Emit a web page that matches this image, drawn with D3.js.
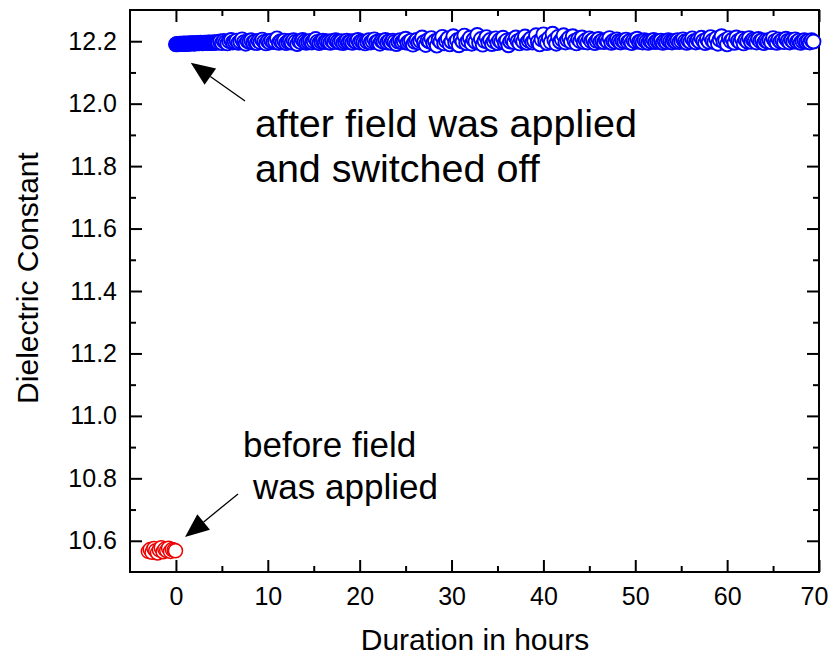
<!DOCTYPE html>
<html>
<head>
<meta charset="utf-8">
<script src="https://cdn.jsdelivr.net/npm/d3@7"></script>
<style>
  html, body { margin: 0; padding: 0; background: #fff; }
  svg { display: block; }
</style>
</head>
<body>
<svg id="chart"></svg>
<script>
/* ── Data ── */
// before the field was applied (hours, dielectric constant)
const redHours = [-3.0, -2.8, -2.6, -2.4, -2.2, -2.0, -1.8, -1.6, -1.4, -1.2, -1.0, -0.8, -0.6, -0.4, -0.2, -0.05];
const redValues = [10.566, 10.572, 10.563, 10.575, 10.568, 10.561, 10.571, 10.578, 10.565, 10.573, 10.569, 10.576, 10.566, 10.572, 10.570, 10.568];

// after field was applied and switched off
const blueHours = [
  0.0, 0.1, 0.2, 0.3, 0.4, 0.5, 0.6, 0.7, 0.8, 0.9,
  1.0, 1.1, 1.2, 1.3, 1.4, 1.5, 1.6, 1.7, 1.8, 1.9,
  2.0, 2.1, 2.2, 2.3, 2.4, 2.5, 2.6, 2.7, 2.8, 2.9,
  3.0, 3.1, 3.2, 3.3, 3.4, 3.5, 3.6, 3.7, 3.8, 3.9,
  4.0, 4.1, 4.2, 4.3, 4.4, 4.5,
  4.6, 4.8, 5.0, 5.2, 5.4, 5.6, 5.8, 6.0, 6.2, 6.4,
  6.6, 6.8, 7.0, 7.2, 7.4, 7.6, 7.8, 8.0, 8.2, 8.4,
  8.6, 8.8, 9.0, 9.2, 9.4, 9.6, 9.8, 10.0, 10.2, 10.4,
  10.6, 10.8, 11.0, 11.2, 11.4, 11.6, 11.8, 12.0, 12.2, 12.4,
  12.6, 12.8, 13.0, 13.2, 13.4, 13.6, 13.8, 14.0, 14.2, 14.4,
  14.6, 14.8, 15.0, 15.2, 15.4, 15.6, 15.8, 16.0, 16.2, 16.4,
  16.6, 16.8, 17.0, 17.2, 17.4, 17.6, 17.8, 18.0, 18.2, 18.4,
  18.6, 18.8, 19.0, 19.2, 19.4, 19.6, 19.8, 20.0, 20.2, 20.4,
  20.6, 20.8, 21.0, 21.2, 21.4, 21.6, 21.8, 22.0, 22.2, 22.4,
  22.6, 22.8, 23.0, 23.2, 23.4, 23.6, 23.8, 24.0, 24.2, 24.4,
  24.6, 24.8, 25.0, 25.2, 25.4, 25.6, 25.8, 26.0, 26.2, 26.4,
  26.6, 26.8, 27.0, 27.2, 27.4, 27.6, 27.8, 28.0, 28.2, 28.4,
  28.6, 28.8, 29.0, 29.2, 29.4, 29.6, 29.8, 30.0, 30.2, 30.4,
  30.6, 30.8, 31.0, 31.2, 31.4, 31.6, 31.8, 32.0, 32.2, 32.4,
  32.6, 32.8, 33.0, 33.2, 33.4, 33.6, 33.8, 34.0, 34.2, 34.4,
  34.6, 34.8, 35.0, 35.2, 35.4, 35.6, 35.8, 36.0, 36.2, 36.4,
  36.6, 36.8, 37.0, 37.2, 37.4, 37.6, 37.8, 38.0, 38.2, 38.4,
  38.6, 38.8, 39.0, 39.2, 39.4, 39.6, 39.8, 40.0, 40.2, 40.4,
  40.6, 40.8, 41.0, 41.2, 41.4, 41.6, 41.8, 42.0, 42.2, 42.4,
  42.6, 42.8, 43.0, 43.2, 43.4, 43.6, 43.8, 44.0, 44.2, 44.4,
  44.6, 44.8, 45.0, 45.2, 45.4, 45.6, 45.8, 46.0, 46.2, 46.4,
  46.6, 46.8, 47.0, 47.2, 47.4, 47.6, 47.8, 48.0, 48.2, 48.4,
  48.6, 48.8, 49.0, 49.2, 49.4, 49.6, 49.8, 50.0, 50.2, 50.4,
  50.6, 50.8, 51.0, 51.2, 51.4, 51.6, 51.8, 52.0, 52.2, 52.4,
  52.6, 52.8, 53.0, 53.2, 53.4, 53.6, 53.8, 54.0, 54.2, 54.4,
  54.6, 54.8, 55.0, 55.2, 55.4, 55.6, 55.8, 56.0, 56.2, 56.4,
  56.6, 56.8, 57.0, 57.2, 57.4, 57.6, 57.8, 58.0, 58.2, 58.4,
  58.6, 58.8, 59.0, 59.2, 59.4, 59.6, 59.8, 60.0, 60.2, 60.4,
  60.6, 60.8, 61.0, 61.2, 61.4, 61.6, 61.8, 62.0, 62.2, 62.4,
  62.6, 62.8, 63.0, 63.2, 63.4, 63.6, 63.8, 64.0, 64.2, 64.4,
  64.6, 64.8, 65.0, 65.2, 65.4, 65.6, 65.8, 66.0, 66.2, 66.4,
  66.6, 66.8, 67.0, 67.2, 67.4, 67.6, 67.8, 68.0, 68.2, 68.4,
  68.6, 68.8, 69.0, 69.2, 69.4
];
const blueValues = [
  12.190, 12.191, 12.190, 12.191, 12.192, 12.191, 12.192, 12.191, 12.192, 12.193,
  12.192, 12.191, 12.192, 12.193, 12.192, 12.193, 12.192, 12.193, 12.194, 12.193,
  12.192, 12.193, 12.194, 12.193, 12.194, 12.193, 12.194, 12.195, 12.194, 12.193,
  12.194, 12.195, 12.194, 12.195, 12.194, 12.195, 12.196, 12.195, 12.194, 12.195,
  12.196, 12.195, 12.196, 12.195, 12.196, 12.197,
  12.196, 12.199, 12.194, 12.201, 12.197, 12.193, 12.200, 12.204, 12.196, 12.198,
  12.202, 12.195, 12.199, 12.206, 12.197, 12.192, 12.200, 12.198, 12.203, 12.196,
  12.199, 12.194, 12.201, 12.197, 12.205, 12.198, 12.193, 12.200, 12.196, 12.202,
  12.197, 12.199, 12.209, 12.195, 12.200, 12.197, 12.202, 12.194, 12.199, 12.201,
  12.196, 12.203, 12.198, 12.191, 12.200, 12.197, 12.204, 12.199, 12.195, 12.198,
  12.201, 12.196, 12.200, 12.207, 12.198, 12.194, 12.199, 12.202, 12.197, 12.200,
  12.198, 12.195, 12.201, 12.197, 12.203, 12.199, 12.196, 12.200, 12.194, 12.198,
  12.202, 12.197, 12.199, 12.195, 12.201, 12.198, 12.204, 12.196, 12.200, 12.197,
  12.193, 12.199, 12.203, 12.196, 12.200, 12.206, 12.197, 12.199, 12.192, 12.201,
  12.198, 12.204, 12.196, 12.200, 12.195, 12.202, 12.198, 12.191, 12.199, 12.203,
  12.197, 12.200, 12.208, 12.195, 12.199, 12.202, 12.189, 12.198, 12.204, 12.196,
  12.201, 12.212, 12.197, 12.188, 12.203, 12.199, 12.210, 12.194, 12.200, 12.186,
  12.205, 12.198, 12.214, 12.193, 12.201, 12.209, 12.190, 12.199, 12.216, 12.196,
  12.203, 12.187, 12.208, 12.199, 12.218, 12.194, 12.202, 12.211, 12.192, 12.205,
  12.198, 12.220, 12.195, 12.207, 12.189, 12.201, 12.213, 12.197, 12.204, 12.191,
  12.200, 12.209, 12.194, 12.203, 12.198, 12.211, 12.196, 12.202, 12.187, 12.199,
  12.205, 12.197, 12.212, 12.200, 12.193, 12.207, 12.199, 12.215, 12.195, 12.202,
  12.208, 12.196, 12.201, 12.219, 12.198, 12.190, 12.206, 12.222, 12.200, 12.194,
  12.210, 12.197, 12.224, 12.203, 12.192, 12.214, 12.199, 12.206, 12.219, 12.196,
  12.204, 12.211, 12.198, 12.216, 12.201, 12.193, 12.207, 12.200, 12.212, 12.197,
  12.203, 12.196, 12.209, 12.200, 12.205, 12.194, 12.201, 12.207, 12.198, 12.202,
  12.197, 12.204, 12.199, 12.210, 12.195, 12.201, 12.198, 12.206, 12.200, 12.196,
  12.202, 12.199, 12.205, 12.197, 12.201, 12.194, 12.203, 12.199, 12.208, 12.198,
  12.200, 12.196, 12.203, 12.199, 12.195, 12.201, 12.198, 12.204, 12.197, 12.200,
  12.198, 12.202, 12.195, 12.200, 12.197, 12.203, 12.199, 12.196, 12.201, 12.198,
  12.203, 12.197, 12.200, 12.206, 12.199, 12.195, 12.202, 12.198, 12.209, 12.200,
  12.196, 12.204, 12.199, 12.211, 12.201, 12.194, 12.207, 12.198, 12.213, 12.202,
  12.197, 12.209, 12.192, 12.205, 12.216, 12.199, 12.203, 12.190, 12.210, 12.200,
  12.206, 12.195, 12.212, 12.201, 12.197, 12.208, 12.193, 12.204, 12.199, 12.210,
  12.198, 12.205, 12.201, 12.196, 12.207, 12.200, 12.203, 12.194, 12.202, 12.199,
  12.204, 12.197, 12.210, 12.200, 12.195, 12.206, 12.199, 12.203, 12.197, 12.208,
  12.201, 12.196, 12.204, 12.199, 12.206, 12.198, 12.202, 12.195, 12.200, 12.203,
  12.198, 12.201, 12.196, 12.203, 12.199
];

const xTicks = [0, 10, 20, 30, 40, 50, 60, 70];
const xMinorTicks = [5, 15, 25, 35, 45, 55, 65];
const yTicks = [10.6, 10.8, 11.0, 11.2, 11.4, 11.6, 11.8, 12.0, 12.2];
const yMinorTicks = [10.7, 10.9, 11.1, 11.3, 11.5, 11.7, 11.9, 12.1];

/* ── Dimensions ── */
const W = 831, H = 655;
const margin = { top: 10, right: 12, bottom: 83, left: 130 };
const iW = W - margin.left - margin.right;
const iH = H - margin.top - margin.bottom;
const FONT = '"Liberation Sans", Arial, Helvetica, sans-serif';

const svg = d3.select('#chart').attr('width', W).attr('height', H);
const g = svg.append('g').attr('transform', `translate(${margin.left},${margin.top})`);

/* ── Scales ── */
const x = d3.scaleLinear().domain([-5, 70]).range([0, iW]);
const y = d3.scaleLinear().domain([10.5, 12.3]).range([iH, 0]);

/* ── Axes: ticks point inward on all four sides ── */
const styleAxis = (a) => {
  a.select('.domain').remove();
  a.selectAll('line').attr('stroke', '#000').attr('stroke-width', 2);
  a.selectAll('text').attr('fill', '#000').attr('font-family', FONT).attr('font-size', 25);
};

g.append('g').attr('transform', `translate(0,${iH})`)
  .call(d3.axisBottom(x).tickValues(xTicks).tickSize(-12).tickPadding(15).tickFormat(d3.format('d')))
  .call(styleAxis)
  // last label sits at the window edge, nudge it inside
  .call((a) => a.selectAll('text').filter((d) => d === 70).attr('dx', -5));
g.append('g').attr('transform', `translate(0,${iH})`)
  .call(d3.axisBottom(x).tickValues(xMinorTicks).tickSize(-6).tickFormat(''))
  .call(styleAxis);
g.append('g')
  .call(d3.axisTop(x).tickValues(xTicks).tickSize(-12).tickFormat(''))
  .call(styleAxis);
g.append('g')
  .call(d3.axisTop(x).tickValues(xMinorTicks).tickSize(-6).tickFormat(''))
  .call(styleAxis);

g.append('g')
  .call(d3.axisLeft(y).tickValues(yTicks).tickSize(-12).tickPadding(13).tickFormat(d3.format('.1f')))
  .call(styleAxis);
g.append('g')
  .call(d3.axisLeft(y).tickValues(yMinorTicks).tickSize(-6).tickFormat(''))
  .call(styleAxis);
g.append('g').attr('transform', `translate(${iW},0)`)
  .call(d3.axisRight(y).tickValues(yTicks).tickSize(-12).tickFormat(''))
  .call(styleAxis);
g.append('g').attr('transform', `translate(${iW},0)`)
  .call(d3.axisRight(y).tickValues(yMinorTicks).tickSize(-6).tickFormat(''))
  .call(styleAxis);

/* ── Frame ── */
g.append('rect')
  .attr('x', 0).attr('y', 0).attr('width', iW).attr('height', iH)
  .attr('fill', 'none').attr('stroke', '#000').attr('stroke-width', 2);

/* ── Points ── */
const drawSeries = (hours, values, color, sw) => {
  g.append('g')
    .selectAll('circle')
    .data(hours.map((h, i) => ({ h, v: values[i] })))
    .join('circle')
    .attr('cx', (d) => x(d.h))
    .attr('cy', (d) => y(d.v))
    .attr('r', 7)
    .attr('fill', '#fff')
    .attr('stroke', color)
    .attr('stroke-width', sw);
};
drawSeries(redHours, redValues, '#ee0000', 1.5);
drawSeries(blueHours, blueValues, '#0000ff', 1.9);

/* ── Annotations ── */
const notes = [
  { text: 'after field was applied', h: 8.6, v: 11.893, size: 39.5 },
  { text: 'and switched off', h: 8.6, v: 11.749, size: 39.5 },
  { text: 'before field', h: 7.3, v: 10.868, size: 35 },
  { text: 'was applied', h: 8.4, v: 10.733, size: 35 }
];
g.selectAll('text.note')
  .data(notes)
  .join('text')
  .attr('class', 'note')
  .attr('x', (d) => x(d.h))
  .attr('y', (d) => y(d.v))
  .attr('font-family', FONT)
  .attr('font-size', (d) => d.size)
  .attr('fill', '#000')
  .text((d) => d.text);

const arrows = [
  { from: [7.52, 12.0085], to: [1.61, 12.131] },
  { from: [6.76, 10.750], to: [0.99, 10.612] }
];
arrows.forEach((a) => {
  const x0 = x(a.from[0]), y0 = y(a.from[1]);
  const x1 = x(a.to[0]), y1 = y(a.to[1]);
  const ang = Math.atan2(y1 - y0, x1 - x0);
  const len = 24, half = 10;
  const bx = x1 - len * Math.cos(ang), by = y1 - len * Math.sin(ang);
  g.append('line')
    .attr('x1', x0).attr('y1', y0).attr('x2', bx).attr('y2', by)
    .attr('stroke', '#000').attr('stroke-width', 1.3);
  g.append('path')
    .attr('d', `M${x1},${y1}L${bx + half * Math.sin(ang)},${by - half * Math.cos(ang)}L${bx - half * Math.sin(ang)},${by + half * Math.cos(ang)}Z`)
    .attr('fill', '#000');
});

/* ── Axis titles ── */
svg.append('text')
  .attr('x', 475)
  .attr('y', 650)
  .attr('text-anchor', 'middle')
  .attr('font-family', FONT)
  .attr('font-size', 30)
  .text('Duration in hours');

svg.append('text')
  .attr('transform', `translate(38,278) rotate(-90)`)
  .attr('text-anchor', 'middle')
  .attr('font-family', FONT)
  .attr('font-size', 30)
  .text('Dielectric Constant');
</script>
</body>
</html>
